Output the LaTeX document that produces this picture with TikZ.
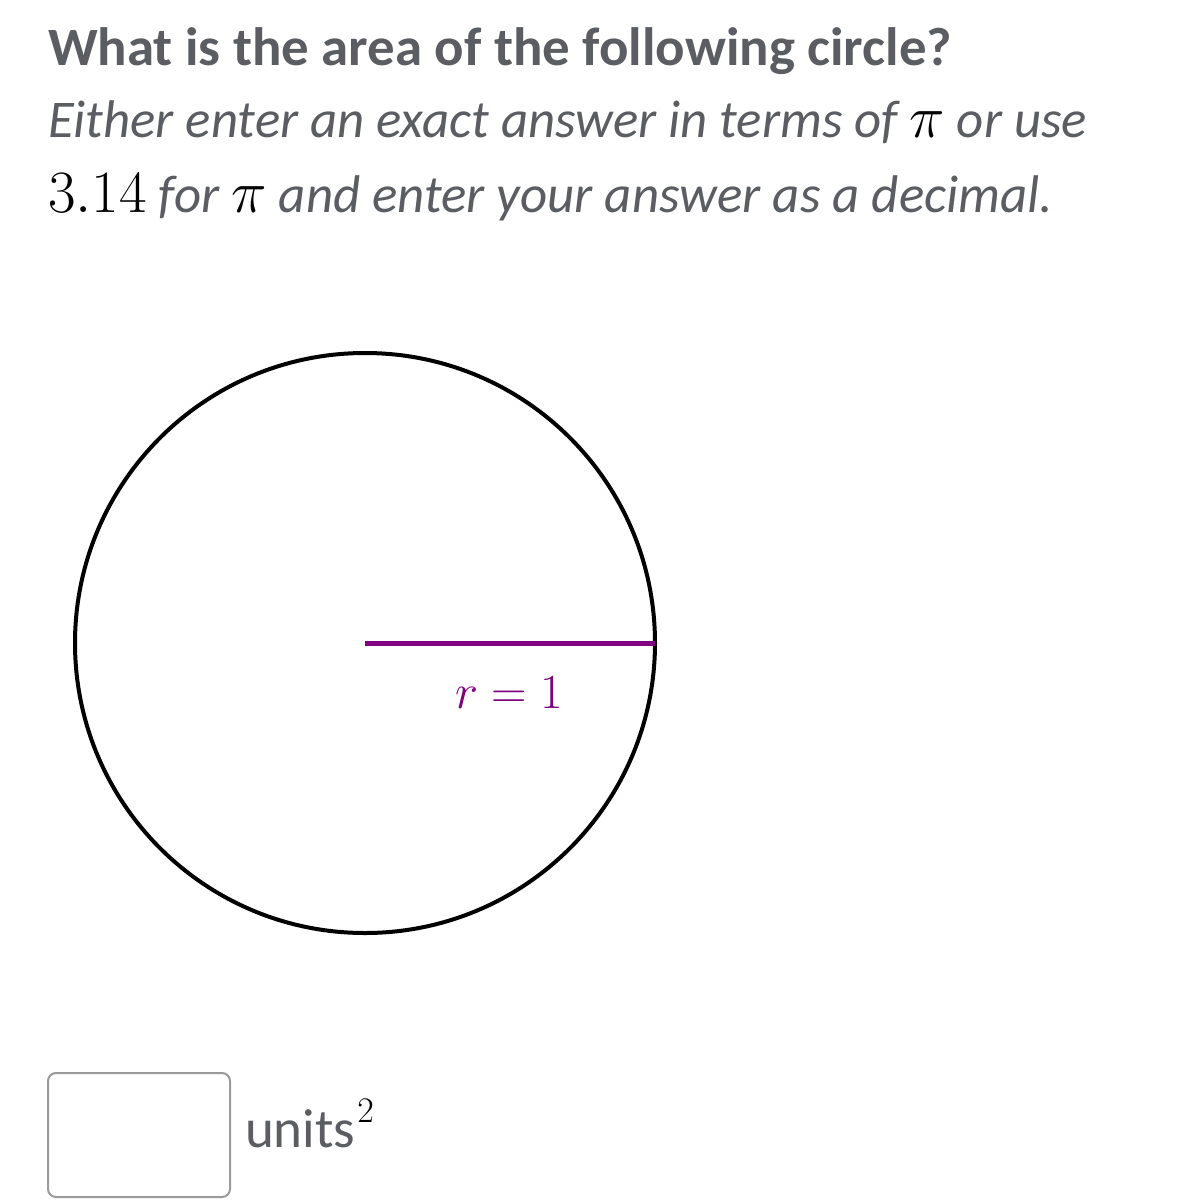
\RequirePackage{fix-cm}
\documentclass[tikz,border=0pt]{standalone}
\usepackage{graphicx}
\usepackage{fontspec}
\setmainfont{Carlito}
\definecolor{txtgray}{HTML}{5A5D62}
\definecolor{radpurple}{HTML}{800080}
\definecolor{boxgray}{HTML}{9A9A9A}
\newcommand{\mathpart}[1]{\textcolor{black}{\fontsize{30}{36}\selectfont$#1$}}
\begin{document}
\begin{tikzpicture}[x=0.5pt,y=-0.5pt,
  txt/.style={anchor=base west,inner sep=0pt,outer sep=0pt,text=txtgray},
  circ/.style={draw=black,line width=2pt},
  radius line/.style={draw=radpurple,line width=2.5pt},
  answerbox/.style={draw=boxgray,line width=1pt,rounded corners=4pt}]
\useasboundingbox (0,0) rectangle (1199,1200);
\fill[white] (0,0) rectangle (1199,1200);
\node[txt,font=\fontsize{27}{32}\selectfont\bfseries] (title) at (48,65)
  {\resizebox{452pt}{\height}{What is the area of the following circle?}};
\node[txt,font=\fontsize{26.5}{30}\selectfont\itshape] (l1) at (48,137)
  {\resizebox{519.5pt}{\height}{Either enter an exact answer in terms of \mathpart{\pi} or use}};
\node[txt,font=\fontsize{26.5}{30}\selectfont\itshape] (l2) at (48,212)
  {\resizebox{502.5pt}{\height}{\mathpart{3.14} for \mathpart{\pi} and enter your answer as a decimal.}};
\coordinate (c) at (365,643);
\draw[circ] (c) circle[radius=290];
\coordinate (e) at (655,643);
\draw[radius line] (c) -- (e);
\node[anchor=base,inner sep=0pt,text=radpurple,font=\fontsize{24.5}{28}\selectfont] (lab) at (509,708) {$r=1$};
\draw[answerbox] (48,1073) rectangle (230,1197);
\node[txt,font=\fontsize{27.5}{31}\selectfont] (units) at (245,1147) {units};
\node[anchor=base west,inner sep=0pt,font=\fontsize{18}{21}\selectfont] (sq) at (357,1122) {$2$};
\end{tikzpicture}
\end{document}
